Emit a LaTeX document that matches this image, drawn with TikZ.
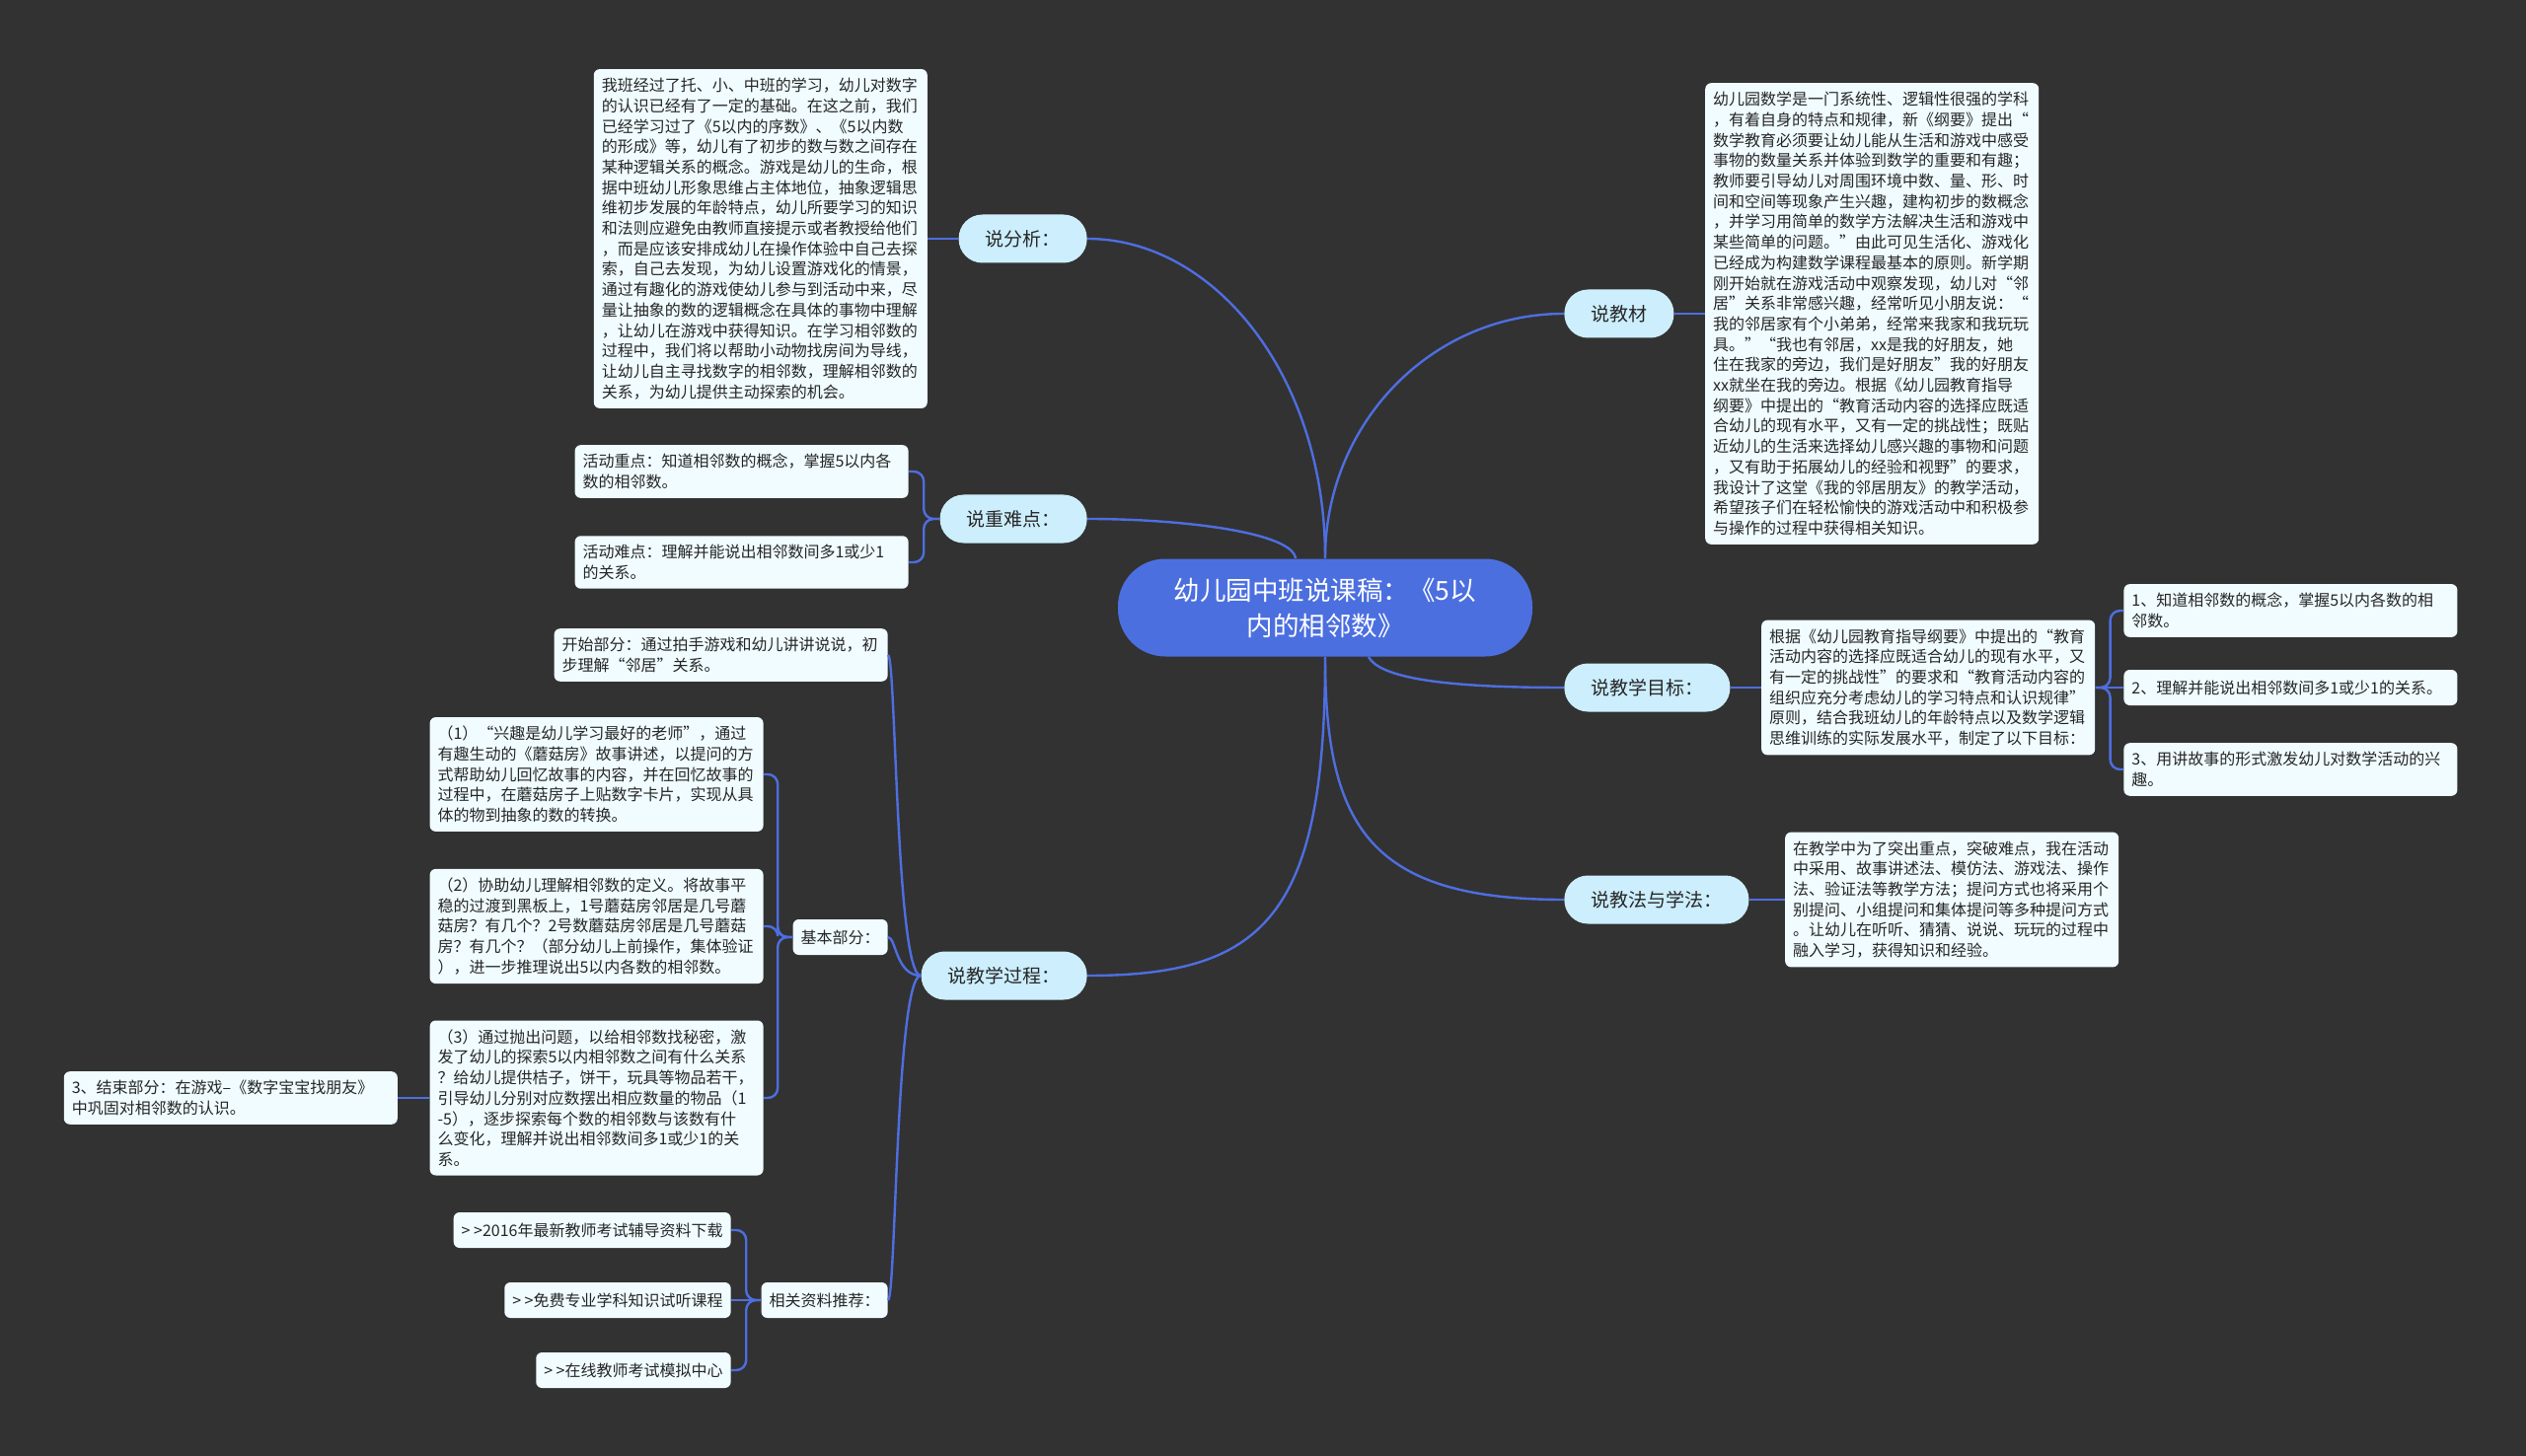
\documentclass[tikz,border=0pt]{standalone}
\usepackage{fontspec}
\setmainfont{Noto Sans CJK SC}
\usetikzlibrary{positioning}
\definecolor{canvas}{RGB}{50,50,50}
\definecolor{linkblue}{RGB}{78,110,224}
\definecolor{rootblue}{RGB}{76,111,224}
\definecolor{topicfill}{RGB}{204,238,253}
\definecolor{notefill}{RGB}{240,252,255}
\definecolor{ink}{RGB}{38,38,38}
\tikzset{
    mainidea/.style={
        rectangle,
        rounded corners=24pt,
        fill=rootblue,
        text=white,
        align=center,
        minimum width=210pt,
        minimum height=49.5pt,
        font=\fontsize{13.25}{18}\selectfont
    },
    topic/.style={
        rectangle,
        rounded corners=12pt,
        fill=topicfill,
        text=ink,
        inner xsep=13.5pt,
        minimum height=24.5pt,
        font=\fontsize{9.5}{12}\selectfont
    },
    note/.style={
        rectangle,
        rounded corners=3pt,
        fill=notefill,
        text=ink,
        align=left,
        text width=161pt,
        inner xsep=4pt,
        inner ysep=4.5pt,
        minimum height=18pt,
        font=\fontsize{8}{10.35}\selectfont
    },
    tag/.style={
        rectangle,
        rounded corners=3pt,
        fill=notefill,
        text=ink,
        inner xsep=4pt,
        minimum height=18pt,
        font=\fontsize{8}{10.35}\selectfont
    },
    link/.style={draw=linkblue, line width=1.2pt},
    bracket/.style={link, rounded corners=5pt}
}
\begin{document}
\begin{tikzpicture}[
    x=0.5pt, y=-0.5pt,
    node distance=15.5pt
]

\fill[canvas] (0,0) rectangle (2560,1476);

% Central idea
\node[mainidea] (root) at (1343,616)
{
幼儿园中班说课稿：《5以\\
内的相邻数》
};

% Topics on the left
\node[topic, anchor=east] (fenxi) at (1102,242) {说分析：};
\node[topic, anchor=east] (zhongnan) at (1102,526) {说重难点：};
\node[topic, anchor=east] (guocheng) at (1102,989) {说教学过程：};

% Topics on the right
\node[topic, anchor=west] (jiaocai) at (1585,318) {说教材};
\node[topic, anchor=west] (mubiao) at (1585,697) {说教学目标：};
\node[topic, anchor=west] (jiaofa) at (1585,912) {说教法与学法：};

% Analysis
\node[note, left=of fenxi] (fenxiNote)
{
我班经过了托、小、中班的学习，幼儿对数字\\
的认识已经有了一定的基础。在这之前，我们\\
已经学习过了《5以内的序数》、《5以内数\\
的形成》等，幼儿有了初步的数与数之间存在\\
某种逻辑关系的概念。游戏是幼儿的生命，根\\
据中班幼儿形象思维占主体地位，抽象逻辑思\\
维初步发展的年龄特点，幼儿所要学习的知识\\
和法则应避免由教师直接提示或者教授给他们\\
，而是应该安排成幼儿在操作体验中自己去探\\
索，自己去发现，为幼儿设置游戏化的情景，\\
通过有趣化的游戏使幼儿参与到活动中来，尽\\
量让抽象的数的逻辑概念在具体的事物中理解\\
，让幼儿在游戏中获得知识。在学习相邻数的\\
过程中，我们将以帮助小动物找房间为导线，\\
让幼儿自主寻找数字的相邻数，理解相邻数的\\
关系，为幼儿提供主动探索的机会。
};

% Teaching material
\node[note, right=of jiaocai] (jiaocaiNote)
{
幼儿园数学是一门系统性、逻辑性很强的学科\\
，有着自身的特点和规律，新《纲要》提出“\\
数学教育必须要让幼儿能从生活和游戏中感受\\
事物的数量关系并体验到数学的重要和有趣；\\
教师要引导幼儿对周围环境中数、量、形、时\\
间和空间等现象产生兴趣，建构初步的数概念\\
，并学习用简单的数学方法解决生活和游戏中\\
某些简单的问题。”由此可见生活化、游戏化\\
已经成为构建数学课程最基本的原则。新学期\\
刚开始就在游戏活动中观察发现，幼儿对“邻\\
居”关系非常感兴趣，经常听见小朋友说：“\\
我的邻居家有个小弟弟，经常来我家和我玩玩\\
具。”“我也有邻居，xx是我的好朋友，她\\
住在我家的旁边，我们是好朋友”我的好朋友\\
xx就坐在我的旁边。根据《幼儿园教育指导\\
纲要》中提出的“教育活动内容的选择应既适\\
合幼儿的现有水平，又有一定的挑战性；既贴\\
近幼儿的生活来选择幼儿感兴趣的事物和问题\\
，又有助于拓展幼儿的经验和视野”的要求，\\
我设计了这堂《我的邻居朋友》的教学活动，\\
希望孩子们在轻松愉快的游戏活动中和积极参\\
与操作的过程中获得相关知识。
};

% Key and difficult points
\node[note, anchor=east] (zhongdian) at (921,478)
{
活动重点：知道相邻数的概念，掌握5以内各\\
数的相邻数。
};

\node[note, anchor=east] (nandian) at (921,570)
{
活动难点：理解并能说出相邻数间多1或少1\\
的关系。
};

% Teaching goals
\node[note, right=of mubiao] (mubiaoNote)
{
根据《幼儿园教育指导纲要》中提出的“教育\\
活动内容的选择应既适合幼儿的现有水平，又\\
有一定的挑战性”的要求和“教育活动内容的\\
组织应充分考虑幼儿的学习特点和认识规律”\\
原则，结合我班幼儿的年龄特点以及数学逻辑\\
思维训练的实际发展水平，制定了以下目标：
};

\coordinate (goalcol) at (2152,0);

\node[note, anchor=west] (goal1) at (2152,619)
{
1、知道相邻数的概念，掌握5以内各数的相\\
邻数。
};

\node[note, anchor=west] (goal2) at (goalcol |- mubiaoNote.east)
{
2、理解并能说出相邻数间多1或少1的关系。
};

\node[note, anchor=west] (goal3) at (2152,780)
{
3、用讲故事的形式激发幼儿对数学活动的兴\\
趣。
};

% Methods
\node[note, right=18pt of jiaofa] (jiaofaNote)
{
在教学中为了突出重点，突破难点，我在活动\\
中采用、故事讲述法、模仿法、游戏法、操作\\
法、验证法等教学方法；提问方式也将采用个\\
别提问、小组提问和集体提问等多种提问方式\\
。让幼儿在听听、猜猜、说说、玩玩的过程中\\
融入学习，获得知识和经验。
};

% Teaching process
\node[note, anchor=east] (kaishi) at (900,664)
{
开始部分：通过拍手游戏和幼儿讲讲说说，初\\
步理解“邻居”关系。
};

\node[tag, anchor=east] (jiben) at (900,950) {基本部分：};

\node[note, anchor=east] (step1) at (774,785)
{
（1）“兴趣是幼儿学习最好的老师”，通过\\
有趣生动的《蘑菇房》故事讲述，以提问的方\\
式帮助幼儿回忆故事的内容，并在回忆故事的\\
过程中，在蘑菇房子上贴数字卡片，实现从具\\
体的物到抽象的数的转换。
};

\node[note, anchor=east] (step2) at (774,939)
{
（2）协助幼儿理解相邻数的定义。将故事平\\
稳的过渡到黑板上，1号蘑菇房邻居是几号蘑\\
菇房？有几个？2号数蘑菇房邻居是几号蘑菇\\
房？有几个？（部分幼儿上前操作，集体验证\\
），进一步推理说出5以内各数的相邻数。
};

\node[note, anchor=east] (step3) at (774,1113)
{
（3）通过抛出问题，以给相邻数找秘密，激\\
发了幼儿的探索5以内相邻数之间有什么关系\\
？给幼儿提供桔子，饼干，玩具等物品若干，\\
引导幼儿分别对应数摆出相应数量的物品（1\\
-5），逐步探索每个数的相邻数与该数有什\\
么变化，理解并说出相邻数间多1或少1的关\\
系。
};

\node[note, left=16pt of step3] (jieshu)
{
3、结束部分：在游戏--《数字宝宝找朋友》\\
中巩固对相邻数的认识。
};

% Related resources
\node[tag, anchor=east] (ziliao) at (900,1318) {相关资料推荐：};
\node[tag, anchor=east] (res1) at (741,1247) {> >2016年最新教师考试辅导资料下载};
\node[tag, anchor=east] (res2) at (741,1318) {> >免费专业学科知识试听课程};
\node[tag, anchor=east] (res3) at (741,1389) {> >在线教师考试模拟中心};

% Central idea to topics
\draw[link] (root.north) .. controls (1343,380) and (1230,242) .. (fenxi.east);
\draw[link] (root.north) .. controls (1343,430) and (1450,318) .. (jiaocai.west);
\draw[link] ([xshift=-15pt]root.north) .. controls (1310,540) and (1200,526) .. (zhongnan.east);
\draw[link] ([xshift=22pt]root.south) .. controls (1400,690) and (1480,697) .. (mubiao.west);
\draw[link] (root.south) .. controls (1343,840) and (1390,912) .. (jiaofa.west);
\draw[link] (root.south) .. controls (1343,930) and (1280,989) .. (guocheng.east);

% Topics to their notes
\draw[link] (fenxi.west) -- (fenxiNote.east);
\draw[link] (jiaocai.east) -- (jiaocaiNote.west);
\draw[link] (mubiao.east) -- (mubiaoNote.west);
\draw[link] (jiaofa.east) -- (jiaofaNote.west);

% Brackets
\foreach \p in {zhongdian,nandian}
    \draw[bracket] (zhongnan.west) -- ++(-16,0) |- (\p.east);
\foreach \g in {goal1,goal3}
    \draw[bracket] (mubiaoNote.east) -- ++(15,0) |- (\g.west);
\draw[link] (mubiaoNote.east) -- (goal2.west);
\foreach \s in {step1,step2,step3}
    \draw[bracket] (jiben.west) -- ++(-15,0) |- (\s.east);
\foreach \r in {res1,res3}
    \draw[bracket] (ziliao.west) -- ++(-15,0) |- (\r.east);
\draw[link] (ziliao.west) -- (res2.east);
\draw[link] (step3.west) -- (jieshu.east);

% Process parts hang off one trunk
\coordinate (trunk) at (908,989);
\foreach \c in {kaishi,jiben,ziliao}
    \draw[link] (guocheng.west) .. controls (trunk) and (trunk |- \c.east) .. (\c.east);

\end{tikzpicture}
\end{document}
